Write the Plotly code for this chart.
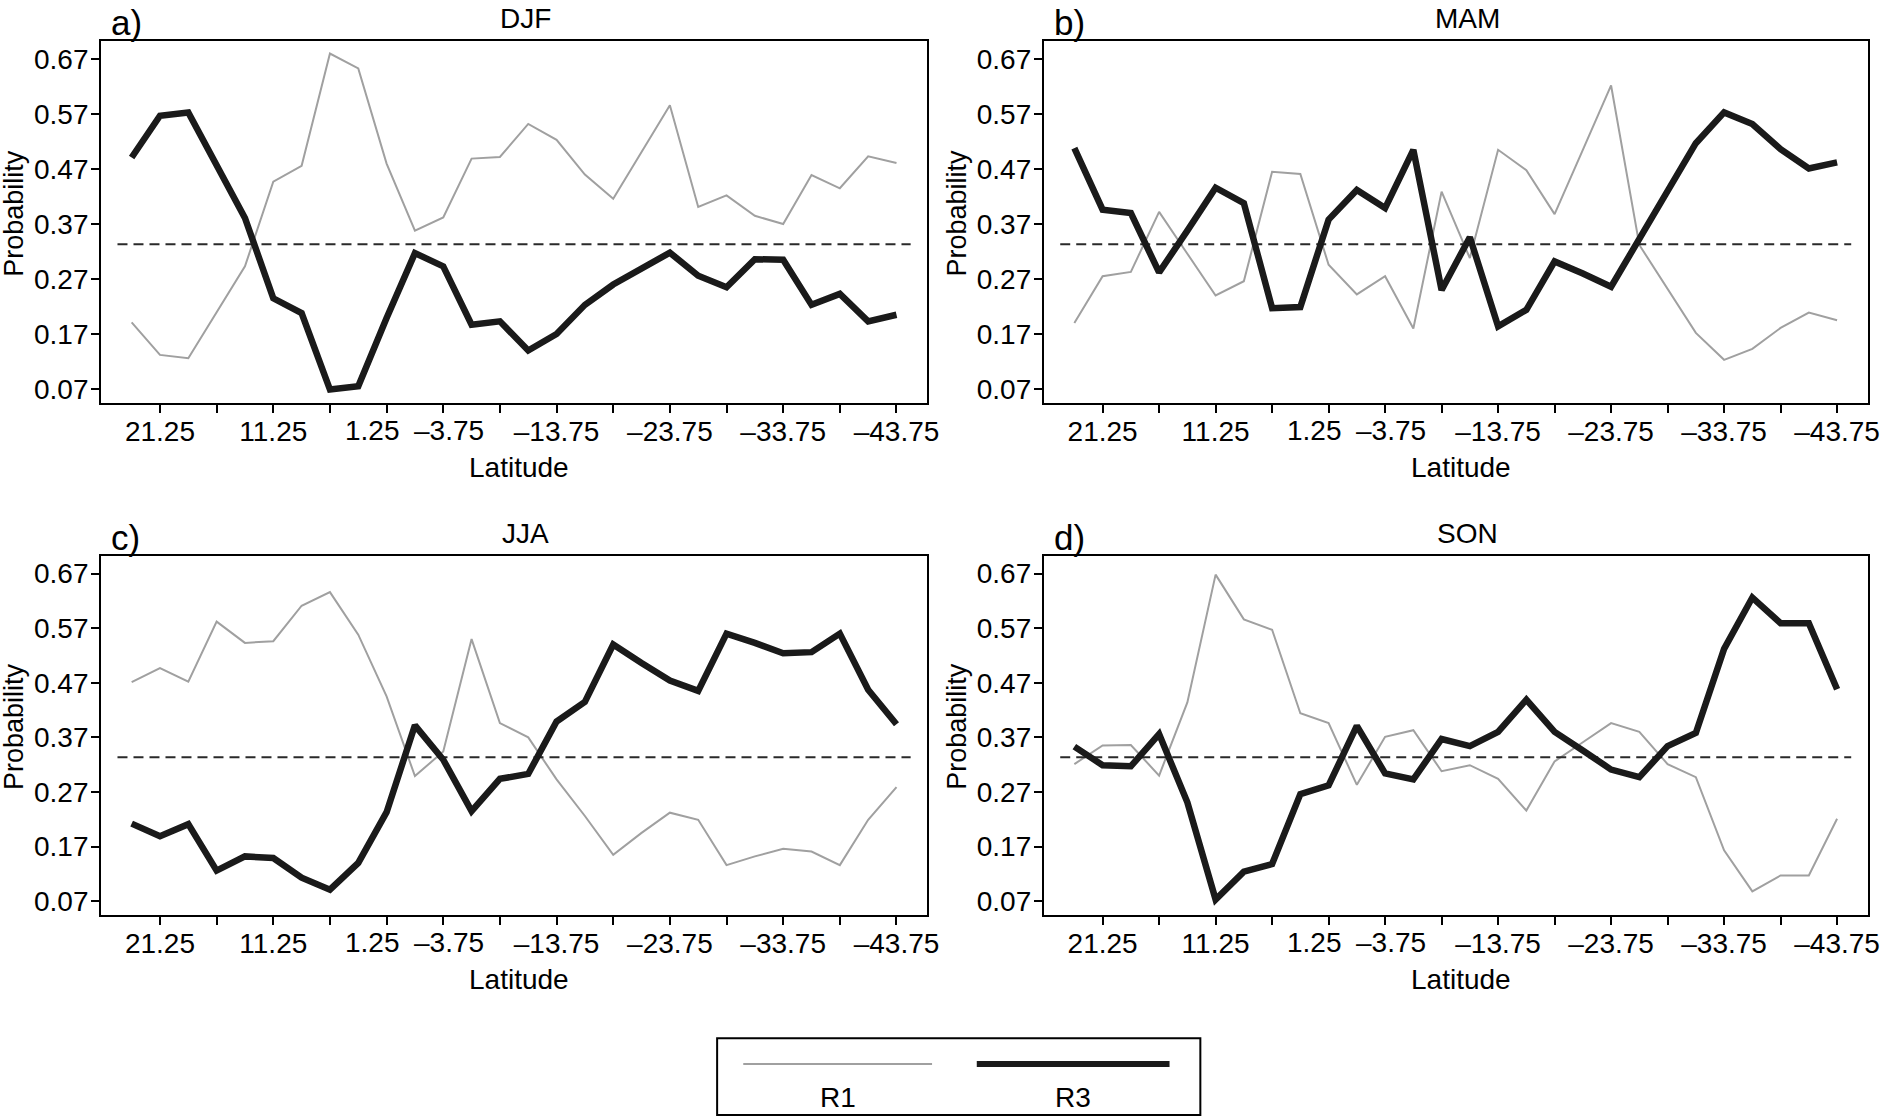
import plotly.graph_objects as go

# ---------------- data ----------------
LATITUDES = [23.75, 21.25, 18.75, 16.25, 13.75, 11.25, 8.75, 6.25, 3.75, 1.25,
             -1.25, -3.75, -6.25, -8.75, -11.25, -13.75, -16.25, -18.75, -21.25,
             -23.75, -26.25, -28.75, -31.25, -33.75, -36.25, -38.75, -41.25, -43.75]

SEASONS = ["DJF", "MAM", "JJA", "SON"]
PANEL_LABELS = ["a)", "b)", "c)", "d)"]

R1_DJF = [0.191, 0.132, 0.126, 0.209, 0.293, 0.447, 0.476, 0.680, 0.653, 0.480,
          0.358, 0.382, 0.489, 0.492, 0.552, 0.523, 0.460, 0.416, 0.501, 0.586,
          0.401, 0.422, 0.385, 0.370, 0.459, 0.435, 0.493, 0.481]
R3_DJF = [0.491, 0.567, 0.573, 0.475, 0.381, 0.235, 0.208, 0.069, 0.075, 0.199,
          0.317, 0.293, 0.187, 0.193, 0.140, 0.170, 0.223, 0.260, 0.290, 0.318,
          0.276, 0.255, 0.306, 0.305, 0.223, 0.243, 0.193, 0.205]

R1_MAM = [0.190, 0.275, 0.283, 0.392, 0.316, 0.240, 0.266, 0.465, 0.461, 0.296,
          0.242, 0.275, 0.180, 0.429, 0.308, 0.505, 0.468, 0.388, 0.505, 0.622,
          0.332, 0.252, 0.172, 0.123, 0.143, 0.181, 0.209, 0.195]
R3_MAM = [0.508, 0.396, 0.390, 0.282, 0.358, 0.436, 0.408, 0.217, 0.219, 0.378,
          0.432, 0.399, 0.505, 0.250, 0.346, 0.184, 0.214, 0.302, 0.280, 0.256,
          0.343, 0.429, 0.517, 0.573, 0.552, 0.506, 0.471, 0.482]

R1_JJA = [0.471, 0.497, 0.472, 0.582, 0.543, 0.546, 0.611, 0.636, 0.558, 0.445,
          0.299, 0.344, 0.550, 0.396, 0.370, 0.293, 0.226, 0.155, 0.195, 0.232,
          0.219, 0.136, 0.152, 0.166, 0.161, 0.136, 0.219, 0.279]
R3_JJA = [0.212, 0.189, 0.211, 0.126, 0.152, 0.149, 0.113, 0.091, 0.140, 0.233,
          0.392, 0.329, 0.235, 0.294, 0.303, 0.399, 0.435, 0.540, 0.506, 0.474,
          0.455, 0.560, 0.543, 0.524, 0.526, 0.560, 0.457, 0.394]

R1_SON = [0.321, 0.355, 0.356, 0.300, 0.434, 0.668, 0.586, 0.567, 0.414, 0.396,
          0.283, 0.371, 0.383, 0.308, 0.319, 0.294, 0.236, 0.326, 0.361, 0.396,
          0.380, 0.321, 0.297, 0.163, 0.088, 0.117, 0.117, 0.221]
R3_SON = [0.353, 0.319, 0.317, 0.376, 0.251, 0.073, 0.124, 0.138, 0.266, 0.282,
          0.391, 0.304, 0.293, 0.367, 0.354, 0.380, 0.439, 0.380, 0.346, 0.311,
          0.297, 0.354, 0.378, 0.532, 0.626, 0.579, 0.579, 0.458]

R1_SERIES = [R1_DJF, R1_MAM, R1_JJA, R1_SON]
R3_SERIES = [R3_DJF, R3_MAM, R3_JJA, R3_SON]

REFERENCE_PROB = 1.0 / 3.0
REFERENCE_LAT = [25.0, -45.0]

X_TICK_VALUES = [21.25, 16.25, 11.25, 6.25, 1.25, -3.75, -8.75, -13.75, -18.75,
                 -23.75, -28.75, -33.75, -38.75, -43.75]
X_TICK_LABELS = ["21.25", "", "11.25", "", "", "", "", "\u201313.75", "",
                 "\u201323.75", "", "\u201333.75", "", "\u201343.75"]
# crowded labels drawn separately (nudged apart, as in the original)
X_EXTRA_LABELS = [(1.25, "1.25", -14), (-3.75, "\u20133.75", 6)]
Y_TICK_VALUES = [0.07, 0.17, 0.27, 0.37, 0.47, 0.57, 0.67]
Y_TICK_LABELS = ["0.07", "0.17", "0.27", "0.37", "0.47", "0.57", "0.67"]

LEGEND_NAMES = ["R1", "R3"]

# ---------------- styling ----------------
W, H = 1894, 1120
FONT = "Liberation Sans, Arial, Helvetica, sans-serif"
GRAY = "#a0a0a0"
BLACK = "#1a1a1a"


def px_x(p):
    return p / W


def px_y(p):
    return 1 - p / H


# panel pixel boxes: (left, right, top, bottom)
PANEL_BOXES = [
    (101.7, 933.0, 41.0, 404.0),
    (1050.5, 1879.5, 41.0, 404.0),
    (101.7, 933.0, 556.5, 917.0),
    (1050.5, 1879.5, 556.5, 917.0),
]

fig = go.Figure()
annotations = []
shapes = []

for i in range(4):
    ax = "" if i == 0 else str(i + 1)
    xref, yref = "x" + ax, "y" + ax
    left, right, top, bottom = PANEL_BOXES[i]

    fig.add_trace(go.Scatter(x=LATITUDES, y=R1_SERIES[i], mode="lines",
                             line=dict(color=GRAY, width=2), name="R1",
                             showlegend=False, xaxis=xref, yaxis=yref))
    fig.add_trace(go.Scatter(x=REFERENCE_LAT, y=[REFERENCE_PROB] * 2, mode="lines",
                             line=dict(color="#2a2a2a", width=2, dash="10px,6px"),
                             showlegend=False, hoverinfo="skip",
                             xaxis=xref, yaxis=yref))
    fig.add_trace(go.Scatter(x=LATITUDES, y=R3_SERIES[i], mode="lines",
                             line=dict(color=BLACK, width=6.5), name="R3",
                             showlegend=False, xaxis=xref, yaxis=yref))

    axis_common = dict(showgrid=False, zeroline=False, showline=True,
                       linecolor="black", linewidth=2, mirror=True,
                       ticks="outside", ticklen=8, tickwidth=2, tickcolor="black",
                       tickfont=dict(family=FONT, size=28, color="black"))
    fig.update_layout(**{
        "xaxis" + ax: dict(axis_common, domain=[px_x(left), px_x(right)],
                           range=[26.45, -46.45], tickmode="array",
                           tickvals=X_TICK_VALUES, ticktext=X_TICK_LABELS,
                           ticklabelstandoff=-6, anchor=yref),
        "yaxis" + ax: dict(axis_common, domain=[px_y(bottom), px_y(top)],
                           range=[0.044, 0.703], tickmode="array",
                           tickvals=Y_TICK_VALUES, ticktext=Y_TICK_LABELS,
                           ticklabelstandoff=-3, anchor=xref),
    })

    for val, txt, shift in X_EXTRA_LABELS:
        annotations.append(dict(x=val, xref=xref, y=0, yref=yref + " domain",
                                text=txt, showarrow=False, xanchor="center",
                                yanchor="middle", xshift=shift, yshift=-27,
                                font=dict(family=FONT, size=28, color="black")))

    cx = (left + right) / 2
    # season title
    annotations.append(dict(x=px_x(cx + 12), y=px_y(top - 22.5), xref="paper",
                            yref="paper", text=SEASONS[i], showarrow=False,
                            xanchor="center", yanchor="middle",
                            font=dict(family=FONT, size=28, color="black")))
    # panel letter
    annotations.append(dict(x=px_x(left + 8), y=px_y(top - 18), xref="paper",
                            yref="paper", text=PANEL_LABELS[i], showarrow=False,
                            xanchor="left", yanchor="middle",
                            font=dict(family=FONT, size=35, color="black")))
    # y title
    annotations.append(dict(x=px_x(left - 87), y=px_y((top + bottom) / 2 - 9),
                            xref="paper", yref="paper", text="Probability",
                            textangle=-90, showarrow=False, xanchor="center",
                            yanchor="middle",
                            font=dict(family=FONT, size=27, color="black")))
    # x title
    annotations.append(dict(x=px_x(cx + 5), y=px_y(bottom + 64), xref="paper",
                            yref="paper", text="Latitude", showarrow=False,
                            xanchor="center", yanchor="middle",
                            font=dict(family=FONT, size=28, color="black")))

# ---------------- custom legend box ----------------
LEG_L, LEG_R, LEG_T, LEG_B = 721.7, 1208.0, 1040.0, 1117.0
shapes.append(dict(type="rect", xref="paper", yref="paper",
                   x0=px_x(LEG_L), x1=px_x(LEG_R), y0=px_y(LEG_B), y1=px_y(LEG_T),
                   line=dict(color="black", width=2), fillcolor="rgba(0,0,0,0)"))
legend_items = [(LEGEND_NAMES[0], 748.0, 938.0, GRAY, 2),
                (LEGEND_NAMES[1], 983.0, 1177.0, BLACK, 6)]
for name, x0, x1, col, wdt in legend_items:
    shapes.append(dict(type="line", xref="paper", yref="paper",
                       x0=px_x(x0), x1=px_x(x1), y0=px_y(1066), y1=px_y(1066),
                       line=dict(color=col, width=wdt)))
    annotations.append(dict(x=px_x((x0 + x1) / 2), y=px_y(1099), xref="paper",
                            yref="paper", text=name, showarrow=False,
                            xanchor="center", yanchor="middle",
                            font=dict(family=FONT, size=28, color="black")))

fig.update_layout(width=W, height=H, margin=dict(l=0, r=0, t=0, b=0),
                  paper_bgcolor="white", plot_bgcolor="white",
                  font=dict(family=FONT, size=28, color="black"),
                  annotations=annotations, shapes=shapes, showlegend=False)

fig.write_html("out.html", config={"displayModeBar": False},
               post_script="document.body.style.margin='0px';"
                           "document.body.style.overflow='hidden';")
